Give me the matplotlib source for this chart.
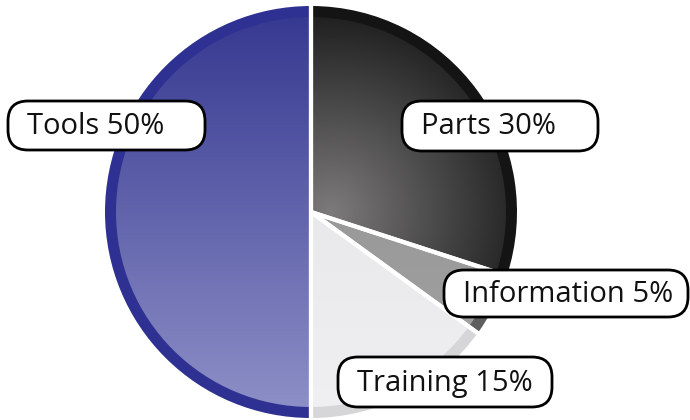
import numpy as np
import matplotlib
matplotlib.use('Agg')
import matplotlib.pyplot as plt
from matplotlib.patches import Wedge, FancyBboxPatch
from matplotlib.colors import LinearSegmentedColormap

categories = ['Tools', 'Parts', 'Information', 'Training']
shares = [50, 30, 5, 15]

# layout (pixel space, y measured from top)
W, H = 690, 420
CX, CY, R = 311, 212, 206
RING = 11
label_boxes = {
    'Tools': (8, 101, 197, 49),
    'Parts': (402, 101, 196, 50),
    'Information': (444, 270, 244, 47),
    'Training': (338, 357, 214, 50),
}
TEXT_PAD = 19


def fy(y):
    return H - y


def slice_angles(values):
    # Tools starts at 12 o'clock going counter-clockwise, rest go clockwise
    out = {}
    start = 90
    out[categories[0]] = (90, 90 + values[0] * 3.6)
    for name, v in zip(categories[1:], values[1:]):
        end = start - v * 3.6
        out[name] = (end, start)
        start = end
    return out


def linear_grad(c_top, c_bot):
    cm = LinearSegmentedColormap.from_list('g', [c_top, c_bot])
    return cm(np.linspace(0, 1, 256)[:, None].repeat(2, axis=1))


def radial_grad(c_in, c_out, fx, fy_, n=300):
    cm = LinearSegmentedColormap.from_list('r', [c_in, c_out])
    yy, xx = np.mgrid[-1:1:n * 1j, -1:1:n * 1j]
    d = np.sqrt((xx - fx) ** 2 + (yy - fy_) ** 2)
    return cm(np.clip(d / 1.0, 0, 1))


styles = {
    'Tools': dict(ring='#2e3192', img=linear_grad('#34378f', '#8f91c8')),
    'Parts': dict(ring='#141414', img=radial_grad('#7c7a7a', '#1c1c1c', 0.1, 0.0)),
    'Information': dict(ring='#5e5e5e', img=linear_grad('#8e8e8e', '#a4a4a4')),
    'Training': dict(ring='#d6d6d8', img=linear_grad('#e2e2e4', '#f0f0f2')),
}

fig = plt.figure(figsize=(6.9, 4.2), dpi=100)
ax = fig.add_axes([0, 0, 1, 1])
ax.axis('off')

angles = slice_angles(shares)
cy = fy(CY)
extent = (CX - R, CX + R, cy - R, cy + R)
for name in categories:
    t1, t2 = angles[name]
    st = styles[name]
    ax.add_patch(Wedge((CX, cy), R, t1, t2, facecolor=st['ring'], edgecolor='none', zorder=1))
    inner = Wedge((CX, cy), R - RING, t1, t2, facecolor='none', edgecolor='none')
    ax.add_patch(inner)
    im = ax.imshow(st['img'], extent=extent, origin='upper', aspect='auto',
                   interpolation='bilinear', zorder=2)
    im.set_clip_path(inner)

# white separators between slices
for name in categories:
    t1, t2 = angles[name]
    for t in (t1, t2):
        a = np.radians(t)
        ax.plot([CX, CX + (R + 2) * np.cos(a)], [cy, cy + (R + 2) * np.sin(a)],
                color='white', lw=3, solid_capstyle='butt', zorder=3)

ax.set_xlim(0, W)
ax.set_ylim(0, H)

for name, v in zip(categories, shares):
    x, y, w, h = label_boxes[name]
    box = FancyBboxPatch((x, fy(y + h)), w, h,
                         boxstyle='round,pad=0,rounding_size=20',
                         facecolor='white', edgecolor='black', lw=2, zorder=5)
    ax.add_patch(box)
    ax.text(x + TEXT_PAD, fy(y + h / 2) - 1, '%s %d%%' % (name, v), ha='left', va='center',
            fontsize=21, family=['Open Sans', 'DejaVu Sans'], color='#111111', zorder=6)

fig.savefig('out.png', dpi=100)
